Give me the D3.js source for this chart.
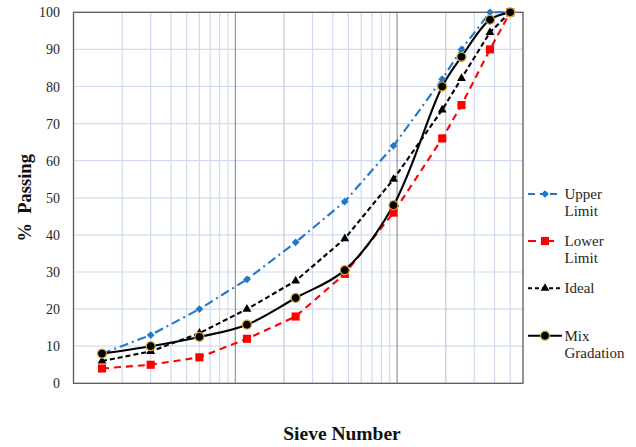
<!DOCTYPE html>
<html><head><meta charset="utf-8">
<script src="https://cdn.jsdelivr.net/npm/d3@7"></script>
<style>body{margin:0;background:#fff}</style>
</head><body>
<svg id="c" width="636" height="447"></svg>
<script>
const sieves = [0.15, 0.3, 0.6, 1.18, 2.36, 4.75, 9.5, 19, 25, 37.5, 50];
const upper  = [8, 13, 20, 28, 38, 49, 64, 82, 90, 100, 100];
const lower  = [4, 5, 7, 12, 18, 29.5, 46, 66, 75, 90, 100];
const ideal  = [6, 8.6, 13.5, 20, 27.6, 39, 55, 73.7, 82.2, 94.6, 100];
const mix    = [8, 10, 12.5, 15.8, 23, 30.5, 48, 80, 88, 98, 100];
const yTicks = [0, 10, 20, 30, 40, 50, 60, 70, 80, 90, 100];
const seriesNames = [["Upper", "Limit"], ["Lower", "Limit"], ["Ideal"], ["Mix", "Gradation"]];

const FONT = "'Liberation Serif', 'Times New Roman', serif";
const svg = d3.select("#c");
const L = 73.5, R = 523, T = 12.3, B = 383.3;
const x = d3.scaleLog().domain([0.1, 60]).range([L, R]);
const y = d3.scaleLinear().domain([0, 100]).range([B, T]);

// gridlines
const minor = [];
for (const dec of [0.1, 1, 10]) for (let k = 1; k <= 9; k++) { const v = dec * k; if (v > 0.1 && v < 60) minor.push(v); }
const isDecade = d => Math.abs(Math.log10(d) - Math.round(Math.log10(d))) < 1e-9;
const g = svg.append("g");
g.selectAll(".hg").data(yTicks.filter(d => d > 0 && d < 100)).enter().append("line")
  .attr("x1", L).attr("x2", R).attr("y1", d => y(d)).attr("y2", d => y(d))
  .attr("stroke", "#d0dbef").attr("stroke-width", 1.2);
g.selectAll(".vg").data(minor).enter().append("line")
  .attr("x1", d => x(d)).attr("x2", d => x(d)).attr("y1", T).attr("y2", B)
  .attr("stroke", d => isDecade(d) ? "#808080"
        : (Math.abs(d / Math.pow(10, Math.floor(Math.log10(d) + 1e-9)) - 2) < 1e-6 && d > 1 ? "#c4c8d0" : "#d0dbef"))
  .attr("stroke-width", d => isDecade(d) ? 1 : 1.2);

// border
svg.append("rect").attr("x", L).attr("y", T).attr("width", R - L).attr("height", B - T)
  .attr("fill", "none").attr("stroke", "#595959").attr("stroke-width", 1.3);

// y tick labels
svg.append("g").selectAll("text").data(yTicks).enter().append("text")
  .attr("x", 60).attr("y", d => y(d) + 5).attr("text-anchor", "end")
  .style("font-family", FONT).style("font-size", "14px")
  .attr("fill", "#262626").text(d => d);

// axis titles
svg.append("text").attr("transform", `translate(31,${(T + B) / 2}) rotate(-90)`)
  .attr("text-anchor", "middle").style("font-family", FONT)
  .style("font-weight", "bold").style("font-size", "18.5px").attr("fill", "#111")
  .style("white-space", "pre").text("%  Passing");
svg.append("text").attr("x", 342).attr("y", 440).attr("text-anchor", "middle")
  .style("font-family", FONT).style("font-weight", "bold")
  .style("font-size", "19.5px").attr("fill", "#111").text("Sieve Number");

const series = [
  { vals: upper, color: "#1f78c8", dash: "9,4,2,4", sym: d3.symbolSquare, rot: 45, size: 30, curve: d3.curveLinear, fill: "#1f78c8", stroke: "none" },
  { vals: lower, color: "#ff0000", dash: "7,5", sym: d3.symbolSquare, rot: 0, size: 66, curve: d3.curveLinear, fill: "#ff0000", stroke: "none" },
  { vals: ideal, color: "#000000", dash: "5,3", sym: d3.symbolTriangle, rot: 0, size: 34, curve: d3.curveLinear, fill: "#000", stroke: "none" },
  { vals: mix, color: "#000000", dash: null, sym: d3.symbolCircle, rot: 0, size: 64, curve: d3.curveCatmullRom.alpha(0.5), fill: "#000", stroke: "#d4a93a" }
];

series.forEach(s => {
  const pts = sieves.map((d, i) => [d, s.vals[i]]);
  const line = d3.line().x(d => x(d[0])).y(d => y(d[1])).curve(s.curve);
  svg.append("path").attr("d", line(pts)).attr("fill", "none")
    .attr("stroke", s.color).attr("stroke-width", 2.1)
    .attr("stroke-dasharray", s.dash);
});
series.forEach(s => {
  const pts = sieves.map((d, i) => [d, s.vals[i]]);
  svg.append("g").selectAll("path").data(pts).enter().append("path")
    .attr("d", d3.symbol().type(s.sym).size(s.size))
    .attr("transform", d => `translate(${x(d[0])},${y(d[1])}) rotate(${s.rot})`)
    .attr("fill", s.fill).attr("stroke", s.stroke).attr("stroke-width", 1.2);
});

// legend
const legY = [194, 241, 288.3, 335.7];
series.forEach((s, i) => {
  const gy = legY[i];
  const lg = svg.append("g");
  lg.append("line").attr("x1", 528).attr("x2", 562).attr("y1", gy).attr("y2", gy)
    .attr("stroke", s.color).attr("stroke-width", 2.1)
    .attr("stroke-dasharray", s.dash ? (i === 0 ? "7,5,5,5,7" : (i === 1 ? "8,10,8" : "4,3")) : null);
  lg.append("path").attr("d", d3.symbol().type(s.sym).size(s.size))
    .attr("transform", `translate(545,${gy}) rotate(${s.rot})`)
    .attr("fill", s.fill).attr("stroke", s.stroke).attr("stroke-width", 1.2);
  lg.selectAll("text").data(seriesNames[i]).enter().append("text")
    .attr("x", 564.5).attr("y", (d, j) => gy + 5 + j * 17)
    .style("font-family", FONT).style("font-size", "15px")
    .attr("fill", "#262626").text(d => d);
});
</script>
</body></html>
